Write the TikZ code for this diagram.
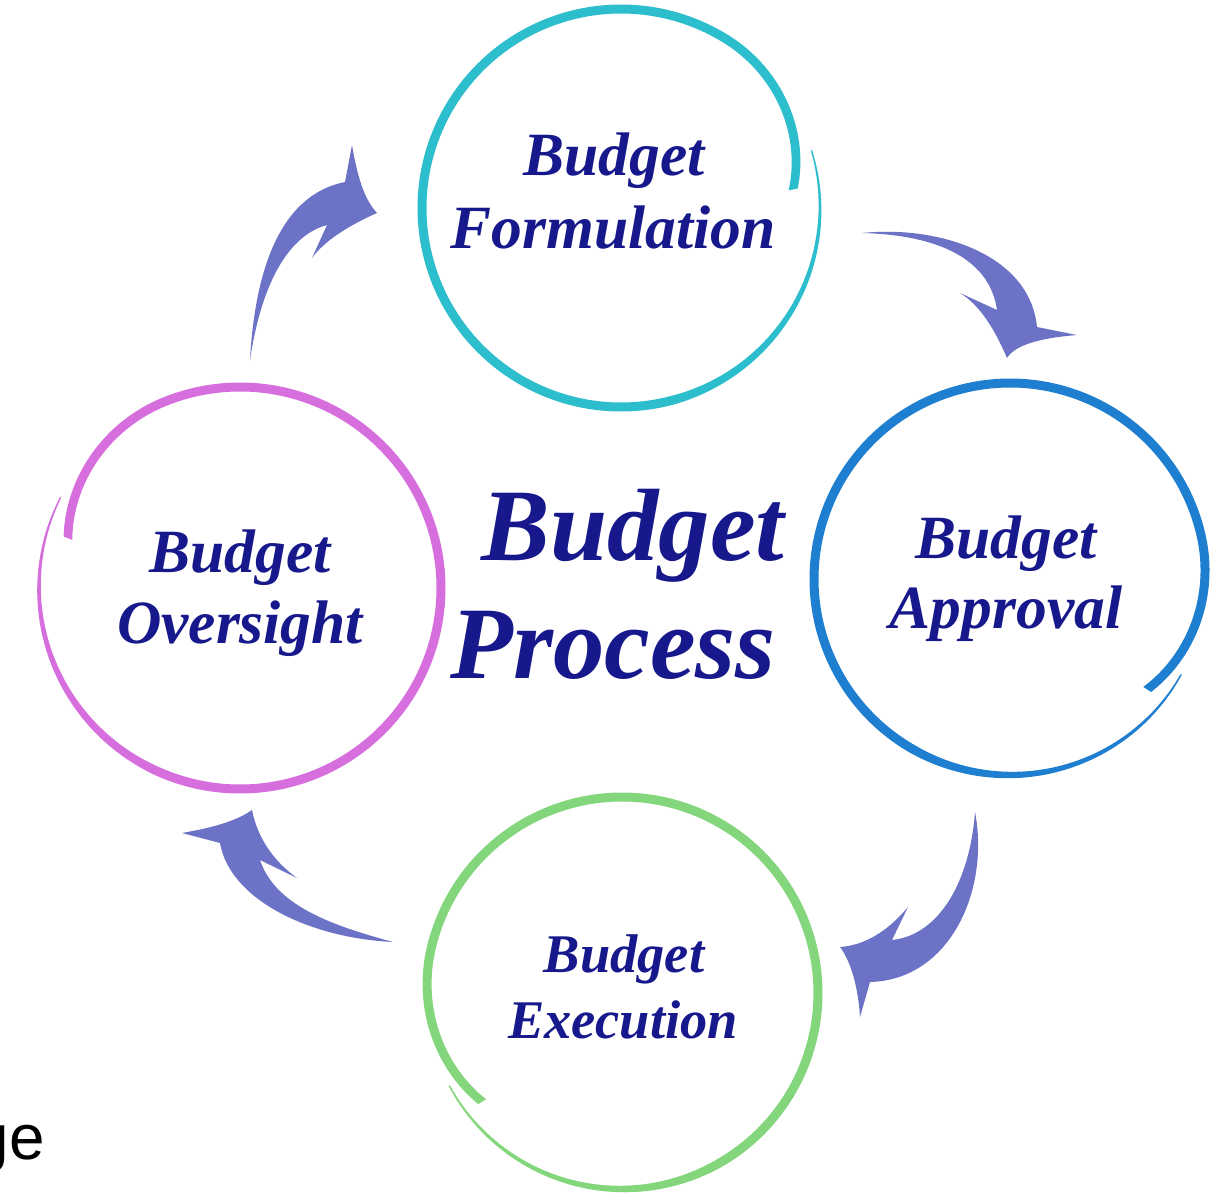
\documentclass[tikz,border=0pt]{standalone}
\usepackage{fontspec}
\setmainfont{Liberation Serif}
\newfontfamily\sansfam{Liberation Sans}
\definecolor{ringtop}{RGB}{44,190,204}
\definecolor{ringright}{RGB}{30,126,208}
\definecolor{ringleft}{RGB}{214,110,222}
\definecolor{ringbottom}{RGB}{132,214,124}
\definecolor{arrowc}{RGB}{108,114,198}
\definecolor{textc}{RGB}{22,24,140}
% #1 cx, #2 cy, #3 R, #4 start angle, #5 sweep, #6 inward drop, #7 max width, #8 colour
\newcommand{\brushring}[8]{%
  \begin{scope}[declare function={th(\t)=#4+(#5)*\t; rr(\t)=#3-#6*(max(0,\t-0.86)/0.14)^2; ww(\t)=#7*min(1,0.15+3.4*\t);}]
    \fill[#8] plot[domain=0:1,samples=300] ({#1+(rr(\x)+0.5*ww(\x))*cos(th(\x))},{#2-(rr(\x)+0.5*ww(\x))*sin(th(\x))})
      -- plot[domain=0:1,samples=300] ({#1+(rr(1-\x)-0.5*ww(1-\x))*cos(th(1-\x))},{#2-(rr(1-\x)-0.5*ww(1-\x))*sin(th(1-\x))}) -- cycle;
  \end{scope}}
\begin{document}
\begin{tikzpicture}[x=0.02cm,y=-0.02cm,
  label/.style={text=textc,font=\bfseries\itshape\fontsize{35}{42}\selectfont,inner sep=0pt,anchor=base},
  smalllabel/.style={label,font=\bfseries\itshape\fontsize{31}{37}\selectfont},
  titlelabel/.style={label,font=\bfseries\itshape\fontsize{58.5}{70}\selectfont},
  arrowshape/.style={fill=arrowc,draw=none}]
\clip (0,0) rectangle (1221,1197);
\fill[white] (0,0) rectangle (1221,1197);

% rings
\brushring{621}{208}{199}{17}{-371}{26}{9}{ringtop}
\brushring{1010}{579}{196}{-29}{-370}{20}{9}{ringright}
\brushring{240}{588}{201}{153}{371}{22}{9}{ringleft}
\brushring{622}{993}{196}{208}{370}{19}{9}{ringbottom}

\node[circle,minimum size=8cm,inner sep=0pt] (form) at (621,208) {};
\node[circle,minimum size=7.8cm,inner sep=0pt] (appr) at (1010,579) {};
\node[circle,minimum size=8cm,inner sep=0pt] (over) at (240,588) {};
\node[circle,minimum size=7.8cm,inner sep=0pt] (exec) at (622,993) {};

% arrows
% oversight -> formulation
\fill[arrowshape] (250,360) .. controls (255,270) and (280,195) .. (345,182)
  -- (352,145) .. controls (358,180) and (365,200) .. (377,213)
  .. controls (350,225) and (325,240) .. (312,258)
  -- (327,225) .. controls (290,235) and (262,280) .. (250,360) -- cycle;
% formulation -> approval
\fill[arrowshape] (862,233) .. controls (940,225) and (1030,255) .. (1037,327)
  -- (1077,335) .. controls (1040,338) and (1015,345) .. (1007,358)
  .. controls (995,330) and (980,305) .. (960,293)
  -- (997,310) .. controls (990,260) and (940,235) .. (862,233) -- cycle;
% approval -> execution
\fill[arrowshape] (975,812) .. controls (990,890) and (950,980) .. (870,982)
  -- (860,1017) .. controls (858,985) and (850,960) .. (840,947)
  .. controls (870,945) and (893,925) .. (908,907)
  -- (892,940) .. controls (940,935) and (970,880) .. (975,812) -- cycle;
% execution -> oversight
\fill[arrowshape] (393,942) .. controls (310,938) and (230,900) .. (220,843)
  -- (182,833) .. controls (210,828) and (235,822) .. (252,810)
  .. controls (258,840) and (275,862) .. (297,878)
  -- (260,860) .. controls (275,905) and (330,925) .. (393,942) -- cycle;

% texts
\node[label] (f1) at (614,175) {Budget};
\node[label] (f2) at (613,248) {Formulation};
\node[label] (a1) at (1006,558) {Budget};
\node[label] (a2) at (1006,628) {Approval};
\node[label] (o1) at (240,572) {Budget};
\node[label] (o2) at (240,643) {Oversight};
\node[smalllabel] (e1) at (624,972) {Budget};
\node[smalllabel] (e2) at (623,1038) {Execution};
\node[titlelabel] (t1) at (633,560) {Budget};
\node[titlelabel] (t2) at (613,678) {Process};
\node[inner sep=0pt,anchor=base east,font=\sansfam\fontsize{36.3}{43}\selectfont] (ge) at (45,1159) {ge};
\end{tikzpicture}
\end{document}
